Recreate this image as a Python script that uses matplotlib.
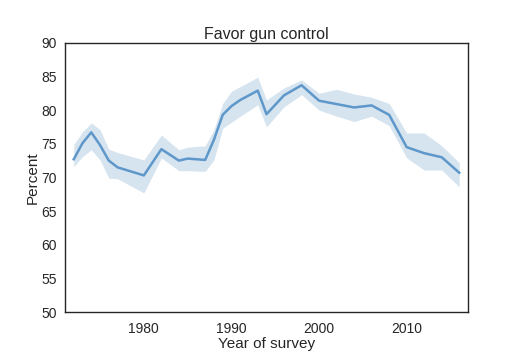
import matplotlib
matplotlib.use('Agg')
import matplotlib.pyplot as plt

# GSS survey years and percent favoring gun control
years = [1972, 1973, 1974, 1975, 1976, 1977, 1980, 1982, 1984, 1985, 1987,
         1988, 1989, 1990, 1991, 1993, 1994, 1996, 1998, 2000, 2002, 2004,
         2006, 2008, 2010, 2012, 2014, 2016]
percent = [72.7, 75.1, 76.7, 74.8, 72.5, 71.5, 70.3, 74.2, 72.5, 72.8, 72.6,
           75.6, 79.3, 80.6, 81.5, 82.9, 79.4, 82.2, 83.7, 81.4, 80.9, 80.4,
           80.7, 79.3, 74.5, 73.6, 73.0, 70.7]
upper = [74.9, 76.8, 78.1, 77.1, 74.2, 73.7, 72.6, 76.3, 74.1, 74.5, 74.7,
         77.1, 81.0, 82.8, 83.5, 84.9, 81.5, 83.3, 84.5, 82.5, 83.1, 82.4,
         81.9, 81.0, 76.6, 76.6, 74.7, 72.2]
lower = [71.6, 73.1, 74.1, 72.6, 69.9, 69.8, 67.7, 72.9, 71.0, 71.0, 70.9,
         72.6, 77.3, 78.2, 79.1, 80.8, 77.5, 80.5, 82.3, 80.0, 79.1, 78.3,
         79.1, 77.7, 72.9, 71.1, 71.1, 68.6]

plt.rcParams['font.family'] = ['Liberation Sans', 'DejaVu Sans']
plt.rcParams['text.color'] = '#262626'
plt.rcParams['axes.labelcolor'] = '#262626'
plt.rcParams['xtick.color'] = '#262626'
plt.rcParams['ytick.color'] = '#262626'

fig = plt.figure(figsize=(5.2, 3.57), dpi=100)
ax = fig.add_axes([0.125, 0.126, 0.775, 0.754])

ax.fill_between(years, lower, upper, color='#d6e4f0', linewidth=0)
ax.plot(years, percent, color='#5e97c9', linewidth=1.8)

ax.set_xlim(1971, 2017)
ax.set_ylim(50, 90)
ax.set_xticks([1980, 1990, 2000, 2010])
ax.set_yticks(range(50, 91, 5))
ax.tick_params(axis='x', length=0, labelsize=10, pad=7)
ax.tick_params(axis='y', length=0, labelsize=10, pad=6)
for s in ax.spines.values():
    s.set_color('#262626')
    s.set_linewidth(1.0)

ax.set_title('Favor gun control', fontsize=11.5, pad=3)
ax.set_xlabel('Year of survey', fontsize=11, labelpad=1)
ax.set_ylabel('Percent', fontsize=11, labelpad=1)

fig.savefig('out.png', dpi=100)
